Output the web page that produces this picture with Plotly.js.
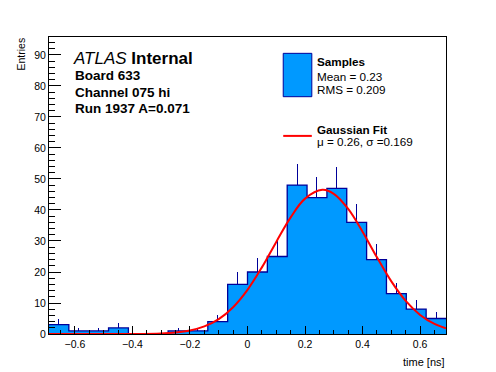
<!DOCTYPE html>
<html>
<head>
<meta charset="utf-8">
<script src="https://cdn.plot.ly/plotly-3.0.1.min.js"></script>
<style>html,body{margin:0;padding:0;background:#fff;}#chart{width:496px;height:372px;}</style>
</head>
<body>
<div id="chart"></div>
<script>
// Histogram: lower bin edges (time, ns), bin width and counts
const binLowEdges = [-0.690, -0.621, -0.552, -0.483, -0.414, -0.345, -0.276, -0.207, -0.138, -0.069,
                      0.000,  0.069,  0.138,  0.207,  0.276,  0.345,  0.414,  0.483,  0.552,  0.621];
const binWidth = 0.069;
const counts = [3, 1, 1, 2, 0, 0, 1, 1, 4, 16, 20, 25, 48, 44, 47, 36, 24, 13, 8, 5];
const errors = [1.73, 1, 1, 1.41, 0, 0, 1, 1, 2, 4, 4.47, 5, 6.93, 6.63, 6.86, 6, 4.9, 3.61, 2.83, 2.24];

// Gaussian fit curve
const fitX = [-0.69, -0.6, -0.5, -0.4, -0.3, -0.25, -0.2, -0.15, -0.1, -0.05, 0, 0.05, 0.1, 0.15,
              0.2, 0.26, 0.3, 0.35, 0.4, 0.45, 0.5, 0.55, 0.6, 0.65, 0.69];
const fitY = [0, 0, 0, 0.02, 0.19, 0.49, 1.14, 2.45, 4.81, 8.65, 14.24, 21.49, 29.71, 37.62,
              43.66, 46.5, 45.22, 40.35, 33.0, 24.72, 16.96, 10.67, 6.14, 3.24, 1.83];

const xRange = [-0.69, 0.69];
const yRange = [0, 95.8];

const fillBlue = 'rgb(0,153,255)';
const lineBlue = 'rgb(0,0,153)';
const font = 'Liberation Sans, Arial, Helvetica, sans-serif';

const centers = binLowEdges.map(e => e + binWidth / 2);
const stepX = binLowEdges.concat([binLowEdges[binLowEdges.length - 1] + binWidth]);
const stepY = counts.concat([counts[counts.length - 1]]);

const traces = [
  {
    type: 'bar', x: centers, y: counts, width: binWidth,
    marker: {color: fillBlue, line: {width: 0}},
    error_y: {type: 'data', symmetric: false, array: errors, arrayminus: counts.map(() => 0),
              color: lineBlue, thickness: 1, width: 0},
    hoverinfo: 'skip', showlegend: false
  },
  {
    type: 'scatter', mode: 'lines', x: stepX, y: stepY,
    line: {shape: 'hv', color: lineBlue, width: 1.3},
    hoverinfo: 'skip', showlegend: false
  },
  {
    type: 'scatter', mode: 'lines', x: fitX, y: fitY,
    line: {shape: 'spline', color: 'rgb(255,0,0)', width: 2},
    hoverinfo: 'skip', showlegend: false
  }
];

const axisCommon = {
  showgrid: false, zeroline: false, showline: true, mirror: true,
  linecolor: 'black', linewidth: 1, ticks: 'inside', tickcolor: 'black',
  tickfont: {family: font, size: 10.5, color: 'black'}
};

const txt = (text, x, y, size, extra) => Object.assign({
  text: text, x: x, y: y, xref: 'paper', yref: 'paper', showarrow: false,
  xanchor: 'left', yanchor: 'middle', borderpad: 0,
  font: {family: font, size: size, color: 'black'}
}, extra || {});

const layout = {
  width: 496, height: 372,
  margin: {l: 49, r: 50, t: 37, b: 38},
  paper_bgcolor: 'white', plot_bgcolor: 'white',
  bargap: 0,
  xaxis: Object.assign({}, axisCommon, {
    range: xRange, tick0: 0, dtick: 0.2, ticklen: 8,
    minor: {dtick: 0.05, ticklen: 4, ticks: 'inside', tickcolor: 'black'}
  }),
  yaxis: Object.assign({}, axisCommon, {
    range: yRange, tick0: 0, dtick: 10, ticklen: 12,
    minor: {dtick: 2, ticklen: 6, ticks: 'inside', tickcolor: 'black'}
  }),
  shapes: [
    {type: 'rect', xref: 'paper', yref: 'paper', x0: 0.590, x1: 0.662, y0: 0.799, y1: 0.945,
     fillcolor: fillBlue, line: {color: lineBlue, width: 1}},
    {type: 'line', xref: 'paper', yref: 'paper', x0: 0.590, x1: 0.662, y0: 0.667, y1: 0.667,
     line: {color: 'rgb(255,0,0)', width: 2}}
  ],
  annotations: [
    txt('<i>ATLAS</i> <b>Internal</b>', 0.058, 0.929, 17),
    txt('<b>Board 633</b>', 0.062, 0.869, 13.5),
    txt('<b>Channel 075 hi</b>', 0.062, 0.812, 13.5),
    txt('<b>Run 1937 A=0.071</b>', 0.062, 0.758, 13.5),
    txt('<b>Samples</b>', 0.673, 0.919, 11.7),
    txt('Mean = 0.23', 0.673, 0.866, 11.7),
    txt('RMS = 0.209', 0.673, 0.822, 11.7),
    txt('<b>Gaussian Fit</b>', 0.673, 0.689, 11.7),
    txt('\u03bc = 0.26, \u03c3 =0.169', 0.673, 0.647, 11.7),
    txt('Entries', -0.073, 1.0, 10.5, {textangle: -90, xanchor: 'center', yanchor: 'top'}),
    txt('time [ns]', 1.0, -0.094, 11, {xanchor: 'right'})
  ]
};

Plotly.newPlot('chart', traces, layout, {staticPlot: true, displayModeBar: false});
</script>
</body>
</html>
